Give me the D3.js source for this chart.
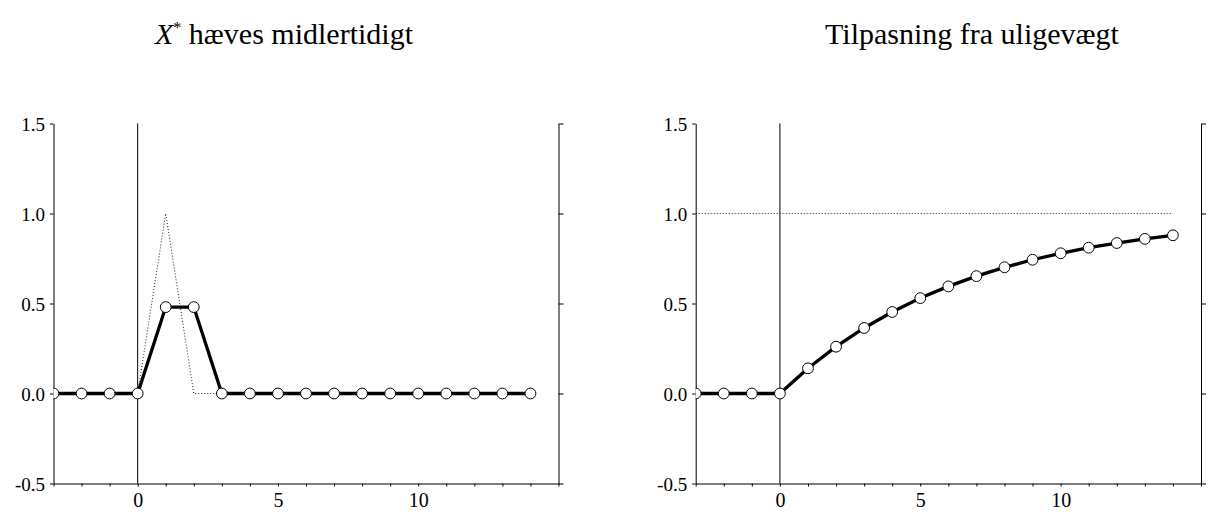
<!DOCTYPE html>
<html>
<head>
<meta charset="utf-8">
<script src="https://cdn.jsdelivr.net/npm/d3@7"></script>
<style>
  body { margin: 0; background: #fff; }
  text { font-family: "Liberation Serif", "Times New Roman", serif; fill: #000; }
</style>
</head>
<body>
<div id="chart"></div>
<script>
const width = 1208;
const height = 512;

// periods (t) and series
const periods = [-3, -2, -1, 0, 1, 2, 3, 4, 5, 6, 7, 8, 9, 10, 11, 12, 13, 14];
const tempX = [0, 0, 0, 0, 0.48, 0.48, 0, 0, 0, 0, 0, 0, 0, 0, 0, 0, 0, 0];
const tempXStar = [0, 0, 0, 0, 1, 0, 0, 0, 0, 0, 0, 0, 0, 0, 0, 0, 0, 0];
const adjX = [0, 0, 0, 0, 0.14, 0.26, 0.364, 0.453, 0.53, 0.595, 0.652, 0.701, 0.743, 0.779, 0.81, 0.836, 0.859, 0.879];
const adjXStar = [1, 1, 1, 1, 1, 1, 1, 1, 1, 1, 1, 1, 1, 1, 1, 1, 1, 1];

const yTicks = [-0.5, 0, 0.5, 1.0, 1.5];
const xTicks = d3.range(-3, 16);
const xLabels = [0, 5, 10];

const panels = [
    { left: 53.5, right: 558.5, titleX: 284, title: "temp", x: tempX, star: tempXStar },
    { left: 695.7, right: 1201, titleX: 972, title: "Tilpasning fra uligevægt", x: adjX, star: adjXStar }
];

const plotTop = 123.5, plotBottom = 483.5;

const svg = d3.select("#chart")
    .append("svg")
    .attr("width", width)
    .attr("height", height);

panels.forEach((p, i) => {
    const xScale = d3.scaleLinear().domain([-3, 15]).range([p.left, p.right]);
    const yScale = d3.scaleLinear().domain([-0.5, 1.5]).range([plotBottom, plotTop]);

    const g = svg.append("g");

    // title
    const title = g.append("text")
        .attr("x", p.titleX)
        .attr("y", 44)
        .attr("text-anchor", "middle")
        .style("font-size", "30px");
    if (p.title === "temp") {
        title.append("tspan").style("font-style", "italic").text("X");
        title.append("tspan").attr("dy", -11).style("font-size", "16px").text("*");
        title.append("tspan").attr("dy", 11).text(" hæves midlertidigt");
    } else {
        title.text(p.title);
    }

    // axes
    const fmt = d => d.toFixed(1);
    const yAxis = g.append("g")
        .attr("transform", `translate(${p.left}, 0)`)
        .call(d3.axisLeft(yScale).tickValues(yTicks).tickSize(3.5).tickSizeOuter(0).tickFormat(fmt));
    yAxis.selectAll("text")
        .attr("x", -8.5)
        .attr("dy", "0.36em")
        .style("font-size", "19px")
        .style("font-family", "Liberation Serif");

    g.append("g")
        .attr("transform", `translate(${p.right}, 0)`)
        .call(d3.axisRight(yScale).tickValues(yTicks).tickSize(5).tickSizeOuter(0).tickFormat(""));

    const xAxis = g.append("g")
        .attr("transform", `translate(0, ${plotBottom})`)
        .call(d3.axisBottom(xScale).tickValues(xTicks).tickSize(3).tickSizeOuter(0)
            .tickFormat(d => xLabels.includes(d) ? d : ""));
    xAxis.selectAll("text")
        .attr("y", 9)
        .attr("dy", "0.71em")
        .style("font-size", "20px")
        .style("font-family", "Liberation Serif");

    svg.selectAll(".domain, .tick line").attr("stroke", "#000");

    // vertical line at t = 0
    g.append("line")
        .attr("x1", xScale(0)).attr("x2", xScale(0))
        .attr("y1", plotTop).attr("y2", plotBottom)
        .attr("stroke", "#000")
        .attr("stroke-width", 1);

    const clipId = "clip" + i;
    svg.append("clipPath").attr("id", clipId)
        .append("rect")
        .attr("x", p.left).attr("y", plotTop - 10)
        .attr("width", p.right - p.left).attr("height", plotBottom - plotTop + 10);

    const plot = g.append("g").attr("clip-path", `url(#${clipId})`);

    const line = d3.line()
        .x((d, j) => xScale(periods[j]))
        .y(d => yScale(d));

    plot.append("path")
        .datum(p.star)
        .attr("d", line)
        .attr("fill", "none")
        .attr("stroke", "#222")
        .attr("stroke-width", 1)
        .attr("stroke-dasharray", "1,2");

    plot.append("path")
        .datum(p.x)
        .attr("d", line)
        .attr("fill", "none")
        .attr("stroke", "#000")
        .attr("stroke-width", 3.3);

    plot.selectAll("circle")
        .data(p.x)
        .enter()
        .append("circle")
        .attr("cx", (d, j) => xScale(periods[j]))
        .attr("cy", d => yScale(d))
        .attr("r", 5.4)
        .attr("fill", "#fff")
        .attr("stroke", "#000")
        .attr("stroke-width", 1);
});
</script>
</body>
</html>
